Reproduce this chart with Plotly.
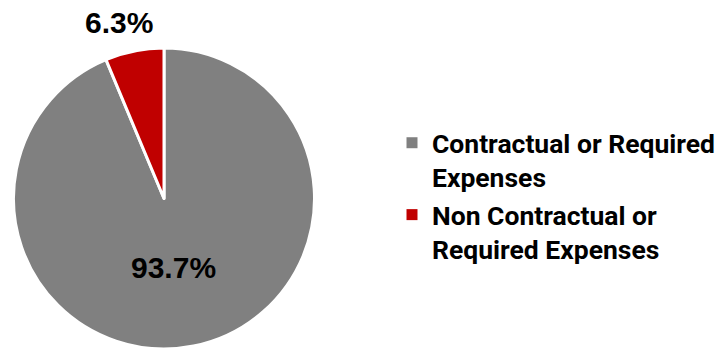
import plotly.graph_objects as go

# Expense split
categories = ["Contractual or Required<br>Expenses", "Non Contractual or<br>Required Expenses"]
shares = [93.7, 6.3]
colors = ["#808080", "#C00000"]

W, H = 724, 349

fig = go.Figure()
fig.add_trace(
    go.Pie(
        labels=categories,
        values=shares,
        sort=False,
        direction="clockwise",
        rotation=0,
        marker=dict(colors=colors, line=dict(color="white", width=3)),
        textinfo="none",
        hoverinfo="label+percent",
        showlegend=False,
        domain=dict(x=[12 / W, 316 / W], y=[0, 1 - 48 / H]),
    )
)

# legend entries with square keys
for name, c in zip(categories, colors):
    fig.add_trace(
        go.Scatter(
            x=[None], y=[None], mode="markers", name=name,
            marker=dict(symbol="square", size=11, color=c),
            hoverinfo="skip",
        )
    )

# value labels
label_pos = [(173.5, 267.5), (119, 23)]
for v, (px, py) in zip(shares, label_pos):
    fig.add_annotation(
        x=px / W, y=1 - py / H, xref="paper", yref="paper",
        text=f"<b>{v:.1f}%</b>", showarrow=False,
        font=dict(family="Liberation Sans, Arial, sans-serif", size=30, color="black"),
        xanchor="center", yanchor="middle",
    )

fig.update_xaxes(visible=False)
fig.update_yaxes(visible=False)
fig.update_layout(
    width=W, height=H,
    margin=dict(l=0, r=0, t=0, b=0),
    paper_bgcolor="white",
    plot_bgcolor="white",
    showlegend=True,
    legend=dict(
        x=392 / W, y=1 - 119 / H, xanchor="left", yanchor="top",
        valign="top",
        font=dict(family="Roboto, sans-serif", size=26.5, color="black", weight="bold"),
        bgcolor="rgba(0,0,0,0)",
        tracegroupgap=0,
    ),
)

fig.write_html("out.html")
